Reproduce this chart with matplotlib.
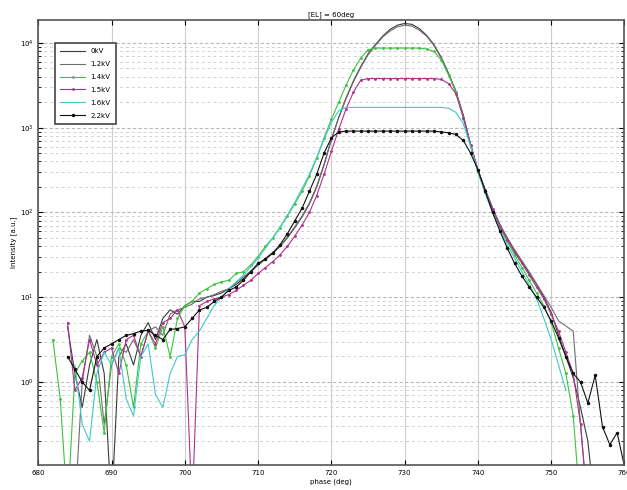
import matplotlib

matplotlib.use("Agg")

import matplotlib.pyplot as plt
import numpy as np
from matplotlib.ticker import LogLocator, NullFormatter

nan = np.nan

# angle axis, one sample per degree
angle = np.arange(680, 761)

labels = ["0kV", "1.2kV", "1.4kV", "1.5kV", "1.6kV", "2.2kV"]

# log10 of intensity (nan = no data)
log_0kV = [nan, nan, nan, nan, 0.65, 0.1, -0.3, 0.2, 0.5, 0.1,
           -1.5, 0.3, 0.45, 0.2, 0.55, 0.7, 0.5, 0.75, 0.85, 0.8,
           0.9, 0.95, 0.95, 1.0, 1.02, 1.05, 1.1, 1.15, 1.22, 1.3,
           1.38, 1.45, 1.52, 1.6, 1.7, 1.82, 1.95, 2.1, 2.3, 2.56,
           2.86, 3.12, 3.35, 3.55, 3.72, 3.87, 3.98, 4.08, 4.16, 4.21,
           4.23, 4.22, 4.17, 4.09, 3.98, 3.83, 3.64, 3.43, 3.15, 2.8,
           2.5, 2.27, 2.05, 1.85, 1.7, 1.55, 1.42, 1.28, 1.15, 1.0,
           0.82, 0.55, 0.3, 0.05, -0.3, -0.7, -1.5, nan, nan, nan, nan]
log_12kV = [nan, nan, nan, nan, nan, -1.5, 0.0, 0.55, 0.3, -0.5,
            0.2, 0.4, 0.35, 0.5, 0.3, 0.6, 0.65, 0.55, 0.8, 0.85,
            0.88, 0.92, 0.98, 1.0, 1.03, 1.07, 1.1, 1.17, 1.24, 1.31,
            1.38, 1.46, 1.53, 1.6, 1.71, 1.83, 1.96, 2.11, 2.31, 2.57,
            2.86, 3.12, 3.34, 3.54, 3.71, 3.86, 3.97, 4.07, 4.14, 4.19,
            4.21, 4.2, 4.15, 4.08, 3.97, 3.82, 3.63, 3.42, 3.14, 2.8,
            2.5, 2.27, 2.05, 1.86, 1.7, 1.56, 1.43, 1.3, 1.16, 1.02,
            0.88, 0.72, 0.66, 0.6, -0.5, -1.5, nan, nan, nan, nan, nan]
log_14kV = [nan, nan, 0.5, -0.2, -1.5, 0.1, 0.25, 0.35, 0.0, -0.6,
            0.3, 0.45, 0.2, -0.3, 0.45, 0.6, 0.4, 0.65, 0.3, 0.75,
            0.9, 0.95, 1.05, 1.1, 1.15, 1.18, 1.2, 1.28, 1.3, 1.38,
            1.48, 1.6, 1.7, 1.82, 1.96, 2.1, 2.25, 2.43, 2.64, 2.88,
            3.1, 3.3, 3.5, 3.68, 3.82, 3.92, 3.94, 3.94, 3.94, 3.94,
            3.94, 3.94, 3.94, 3.93, 3.9, 3.8, 3.62, 3.42, 3.12, 2.78,
            2.48, 2.24, 2.02, 1.82, 1.66, 1.5, 1.35, 1.2, 1.05, 0.9,
            0.7, 0.4, 0.1, -0.4, -1.5, nan, nan, nan, nan, nan, nan]
log_15kV = [nan, nan, nan, nan, 0.7, -0.1, 0.05, 0.5, 0.2, 0.35,
            0.4, 0.1, 0.5, 0.55, 0.3, 0.6, 0.45, 0.7, 0.75, 0.85,
            0.65, -1.5, 0.9, 0.95, 0.98, 1.0, 1.03, 1.08, 1.14, 1.2,
            1.28, 1.35, 1.42, 1.5, 1.6, 1.72, 1.85, 2.0, 2.2, 2.45,
            2.72, 2.98, 3.22, 3.42, 3.56, 3.58, 3.58, 3.58, 3.58, 3.58,
            3.58, 3.58, 3.58, 3.58, 3.58, 3.57, 3.52, 3.4, 3.12, 2.8,
            2.5, 2.26, 2.04, 1.84, 1.68, 1.53, 1.4, 1.26, 1.12, 0.98,
            0.8, 0.6, 0.35, 0.1, -0.5, -1.5, nan, nan, nan, nan, nan]
log_16kV = [nan, nan, nan, nan, nan, 0.2, -0.5, -0.7, 0.1, 0.35,
            0.2, 0.4, -0.2, -0.4, 0.3, 0.45, -0.15, -0.3, 0.1, 0.3,
            0.32, 0.5, 0.6, 0.75, 0.9, 1.0, 1.1, 1.18, 1.26, 1.36,
            1.46, 1.58, 1.7, 1.83, 1.97, 2.12, 2.28, 2.45, 2.65, 2.86,
            3.06, 3.2, 3.24, 3.24, 3.24, 3.24, 3.24, 3.24, 3.24, 3.24,
            3.24, 3.24, 3.24, 3.24, 3.24, 3.24, 3.23, 3.18, 3.05, 2.78,
            2.48, 2.22, 2.0, 1.8, 1.62, 1.46, 1.3, 1.15, 0.98, 0.75,
            0.5, 0.2, -0.1, nan, nan, nan, nan, nan, nan, nan, nan]
log_22kV = [nan, nan, nan, nan, 0.3, 0.15, 0.0, -0.1, 0.3, 0.4,
            0.45, 0.5, 0.55, 0.57, 0.6, 0.61, 0.55, 0.5, 0.62, 0.63,
            0.65, 0.75, 0.85, 0.88, 0.95, 1.0, 1.08, 1.12, 1.2, 1.3,
            1.4, 1.45, 1.52, 1.62, 1.75, 1.9, 2.05, 2.25, 2.45, 2.7,
            2.88, 2.95, 2.96, 2.96, 2.96, 2.96, 2.96, 2.96, 2.96, 2.96,
            2.96, 2.96, 2.96, 2.96, 2.96, 2.95, 2.94, 2.92, 2.85, 2.7,
            2.5, 2.25, 2.0, 1.78, 1.58, 1.4, 1.25, 1.12, 1.0, 0.88,
            0.72, 0.52, 0.3, 0.1, 0.0, -0.25, 0.08, -0.53, -0.74, -0.6, -1.0]

series = [log_0kV, log_12kV, log_14kV, log_15kV, log_16kV, log_22kV]
colors = ["#3a3a3a", "#6e6e6e", "#3cc43c", "#b0308f", "#3ccaca", "#111111"]
markers = [None, None, ".", ".", None, "."]
msizes = [0, 0, 2, 2, 0, 3]

fig = plt.figure(figsize=(6.27, 4.9), dpi=100)
ax = fig.add_axes([0.061, 0.051, 0.935, 0.908])

for vals, lab, col, mk, ms in zip(series, labels, colors, markers, msizes):
    ax.plot(angle, 10 ** np.array(vals, dtype=float), color=col, lw=0.8,
            marker=mk, ms=ms, label=lab)

ax.set_yscale("log")
ax.set_xlim(680, 760)
ax.set_ylim(10 ** -0.98, 10 ** 4.27)
ax.set_xticks(np.arange(680, 761, 10))
ax.set_yticks([1, 10, 100, 1e3, 1e4])
ax.yaxis.set_minor_locator(LogLocator(base=10, subs=np.arange(2, 10)))
ax.yaxis.set_minor_formatter(NullFormatter())
ax.tick_params(which="both", direction="in", labelsize=5, top=True, right=True)

ax.grid(axis="x", which="major", color="#cfcfcf", ls="-", lw=0.8)
ax.grid(axis="y", which="major", color="#b8b8b8", ls=(0, (3, 2)), lw=0.8)
ax.grid(axis="y", which="minor", color="#d2d2d2", ls=(0, (3, 3)), lw=0.7)

ax.set_title("[EL] = 60deg", fontsize=5, pad=3)
ax.set_xlabel("phase (deg)", fontsize=5, labelpad=2)
ax.set_ylabel("Intensity [a.u.]", fontsize=5, labelpad=2)

leg = ax.legend(loc="upper left", bbox_to_anchor=(0.029, 0.948), fontsize=5,
                fancybox=False, edgecolor="#444444", borderaxespad=0,
                handlelength=3.6, labelspacing=1.0, borderpad=0.7,
                framealpha=1)
leg.get_frame().set_linewidth(1.2)

for s in ax.spines.values():
    s.set_color("#555555")
    s.set_linewidth(1.2)

fig.savefig("out.png", dpi=100)
